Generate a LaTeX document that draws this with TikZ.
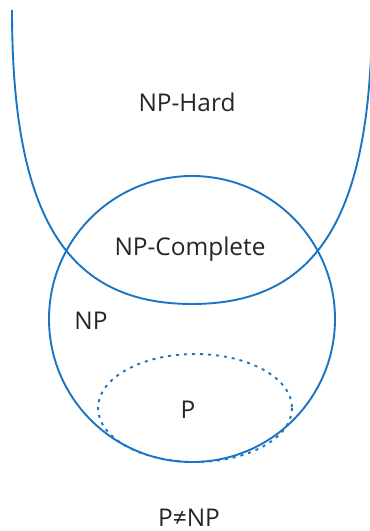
\documentclass[tikz,border=0pt]{standalone}
\usepackage{fontspec}
\setmainfont{Open Sans}
\definecolor{setblue}{RGB}{28,117,196}
\begin{document}
\begin{tikzpicture}[x=1bp,y=-1bp,
  setline/.style={draw=setblue,line width=1.9bp},
  dotline/.style={draw=setblue,line width=1.9bp,dash pattern=on 3bp off 5bp},
  lbl/.style={anchor=base,inner sep=0pt,font=\fontsize{24.5}{27}\selectfont,text=black!85}]
\useasboundingbox[fill=white] (0,0) rectangle (369,531);
% NP-Hard region (open U shape)
\draw[setline] (12,10) .. controls (12,216) and (66,304) .. (192,304)
  .. controls (318,304) and (372,216) .. (372,10);
% NP circle
\draw[setline] (192,319) circle[radius=143];
% P ellipse (dotted)
\draw[dotline] (195,408) ellipse[x radius=97,y radius=54];
% labels
\node[lbl] (hard) at (187,112) {NP-Hard};
\node[lbl] (npc) at (190,255) {NP-Complete};
\node[lbl] (np) at (91,329) {NP};
\node[lbl] (p) at (188,418) {P};
\node[lbl] (pnp) at (189,526) {P≠NP};
\end{tikzpicture}
\end{document}
